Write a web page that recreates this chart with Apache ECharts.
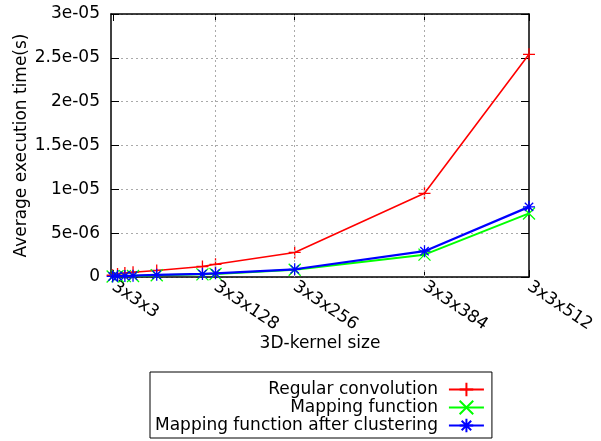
<!DOCTYPE html>
<html>
<head>
<meta charset="utf-8">
<script src="https://cdn.jsdelivr.net/npm/echarts@6/dist/echarts.min.js"></script>
<style>
  html, body { margin: 0; padding: 0; background: #fff; }
  #chart { width: 601px; height: 441px; }
</style>
</head>
<body>
<div id="chart"></div>
<script>
// Kernel depth used as the x coordinate of each measurement
const kernelDepth = [2, 8, 17, 27, 56, 112, 128, 225, 384, 512];

// Average execution time in seconds
const regularConv = [0.2e-6, 0.35e-6, 0.45e-6, 0.55e-6, 0.75e-6, 1.2e-6, 1.45e-6, 2.8e-6, 9.55e-6, 25.4e-6];
const mappingFn = [0.05e-6, 0.08e-6, 0.1e-6, 0.12e-6, 0.2e-6, 0.3e-6, 0.35e-6, 0.82e-6, 2.55e-6, 7.25e-6];
const mappingClustered = [0.06e-6, 0.1e-6, 0.12e-6, 0.15e-6, 0.25e-6, 0.35e-6, 0.42e-6, 0.88e-6, 2.95e-6, 8.0e-6];

// X tick positions and their labels
const xTickValues = [3, 128, 225, 384, 512];
const xTickLabels = ['3x3x3', '3x3x128', '3x3x256', '3x3x384', '3x3x512'];
const xGridValues = [128, 225, 384];

const seriesNames = ['Regular convolution', 'Mapping function', 'Mapping function after clustering'];

const FONT = 'DejaVu Sans';
const FONT_SIZE = 17;

const SYM_PLUS = 'path://M0,6L12,6M6,0L6,12';
const SYM_CROSS = 'path://M0,0L12,12M12,0L0,12';
const SYM_STAR = 'path://M0,6L12,6M6,0L6,12M1.8,1.8L10.2,10.2M10.2,1.8L1.8,10.2';

function gFormat(v) {
  if (v === 0) return '0';
  let s = v.toExponential(3);
  let [m, e] = s.split('e');
  m = m.replace(/\.?0+$/, '');
  const sign = e[0] === '-' ? '-' : '+';
  let digits = e.replace(/^[+-]/, '');
  if (digits.length < 2) digits = '0' + digits;
  return m + 'e' + sign + digits;
}

function pairs(ys) {
  return kernelDepth.map((x, i) => [x, ys[i]]);
}

function lineSeries(name, ys, color, width, symbol, z) {
  return {
    name: name,
    type: 'line',
    data: pairs(ys),
    z: z,
    symbol: symbol,
    symbolSize: 12,
    showAllSymbol: true,
    lineStyle: { color: color, width: width },
    itemStyle: { color: color, borderColor: color, borderWidth: 1.3 },
    emphasis: { disabled: true },
    animation: false
  };
}

const chart = echarts.init(document.getElementById('chart'), null, { renderer: 'canvas' });

const tickLabelStyle = { fontFamily: FONT, fontSize: FONT_SIZE, color: '#000' };
const nameStyle = { fontFamily: FONT, fontSize: FONT_SIZE, color: '#000' };

chart.setOption({
  animation: false,
  backgroundColor: '#fff',
  grid: { left: 111, right: 72, top: 14, bottom: 164, show: false },
  legend: {
    orient: 'vertical',
    align: 'right',
    left: 150,
    top: 372,
    padding: [9, 7, 4, 5],
    itemGap: 1,
    itemWidth: 35,
    itemHeight: 17,
    borderColor: '#000',
    borderWidth: 1,
    borderRadius: 0,
    selectedMode: false,
    textStyle: { fontFamily: FONT, fontSize: FONT_SIZE, color: '#000', padding: [0, 6, 0, 0] },
    data: seriesNames
  },
  xAxis: [
    {
      type: 'value',
      min: 0,
      max: 512,
      position: 'bottom',
      name: '3D-kernel size',
      nameLocation: 'middle',
      nameGap: 58,
      nameMoveOverlap: false,
      nameTextStyle: nameStyle,
      axisLine: { show: true, onZero: false, lineStyle: { color: '#000', width: 1.5 } },
      axisTick: { show: true, inside: true, length: 7, customValues: xTickValues, lineStyle: { color: '#000' } },
      axisLabel: {
        show: true,
        rotate: -34,
        margin: 8,
        customValues: xTickValues,
        formatter: function (v) {
          const i = xTickValues.indexOf(v);
          return i >= 0 ? xTickLabels[i] : '';
        },
        ...tickLabelStyle
      },
      splitLine: { show: false }
    },
    {
      type: 'value',
      min: 0,
      max: 512,
      position: 'top',
      axisLine: { show: true, onZero: false, lineStyle: { color: '#000', width: 1.5 } },
      axisTick: { show: true, inside: true, length: 7, customValues: xTickValues, lineStyle: { color: '#000' } },
      axisLabel: { show: false },
      splitLine: { show: false }
    }
  ],
  yAxis: [
    {
      type: 'value',
      min: 0,
      max: 3e-5,
      interval: 5e-6,
      position: 'left',
      name: 'Average execution time(s)',
      nameLocation: 'middle',
      nameGap: 81,
      nameMoveOverlap: false,
      nameTextStyle: nameStyle,
      axisLine: { show: true, onZero: false, lineStyle: { color: '#000', width: 1.5 } },
      axisTick: { show: true, inside: true, length: 8, lineStyle: { color: '#000' } },
      axisLabel: { margin: 11, formatter: gFormat, ...tickLabelStyle },
      splitLine: { show: true, lineStyle: { color: '#aaa', type: [2, 3], width: 1 } }
    },
    {
      type: 'value',
      min: 0,
      max: 3e-5,
      interval: 5e-6,
      position: 'right',
      axisLine: { show: true, onZero: false, lineStyle: { color: '#000', width: 1.5 } },
      axisTick: { show: true, inside: true, length: 8, lineStyle: { color: '#000' } },
      axisLabel: { show: false },
      splitLine: { show: false }
    }
  ],
  series: [
    {
      name: 'xgrid',
      type: 'line',
      data: [],
      z: 1,
      silent: true,
      markLine: {
        silent: true,
        symbol: 'none',
        label: { show: false },
        lineStyle: { color: '#aaa', type: [2, 3], width: 1 },
        data: xGridValues.map(v => ({ xAxis: v }))
      }
    },
    lineSeries(seriesNames[0], regularConv, '#ff0000', 1.6, SYM_PLUS, 3),
    lineSeries(seriesNames[1], mappingFn, '#00ff00', 2, SYM_CROSS, 4),
    lineSeries(seriesNames[2], mappingClustered, '#0000ff', 2.2, SYM_STAR, 5)
  ]
});
</script>
</body>
</html>
